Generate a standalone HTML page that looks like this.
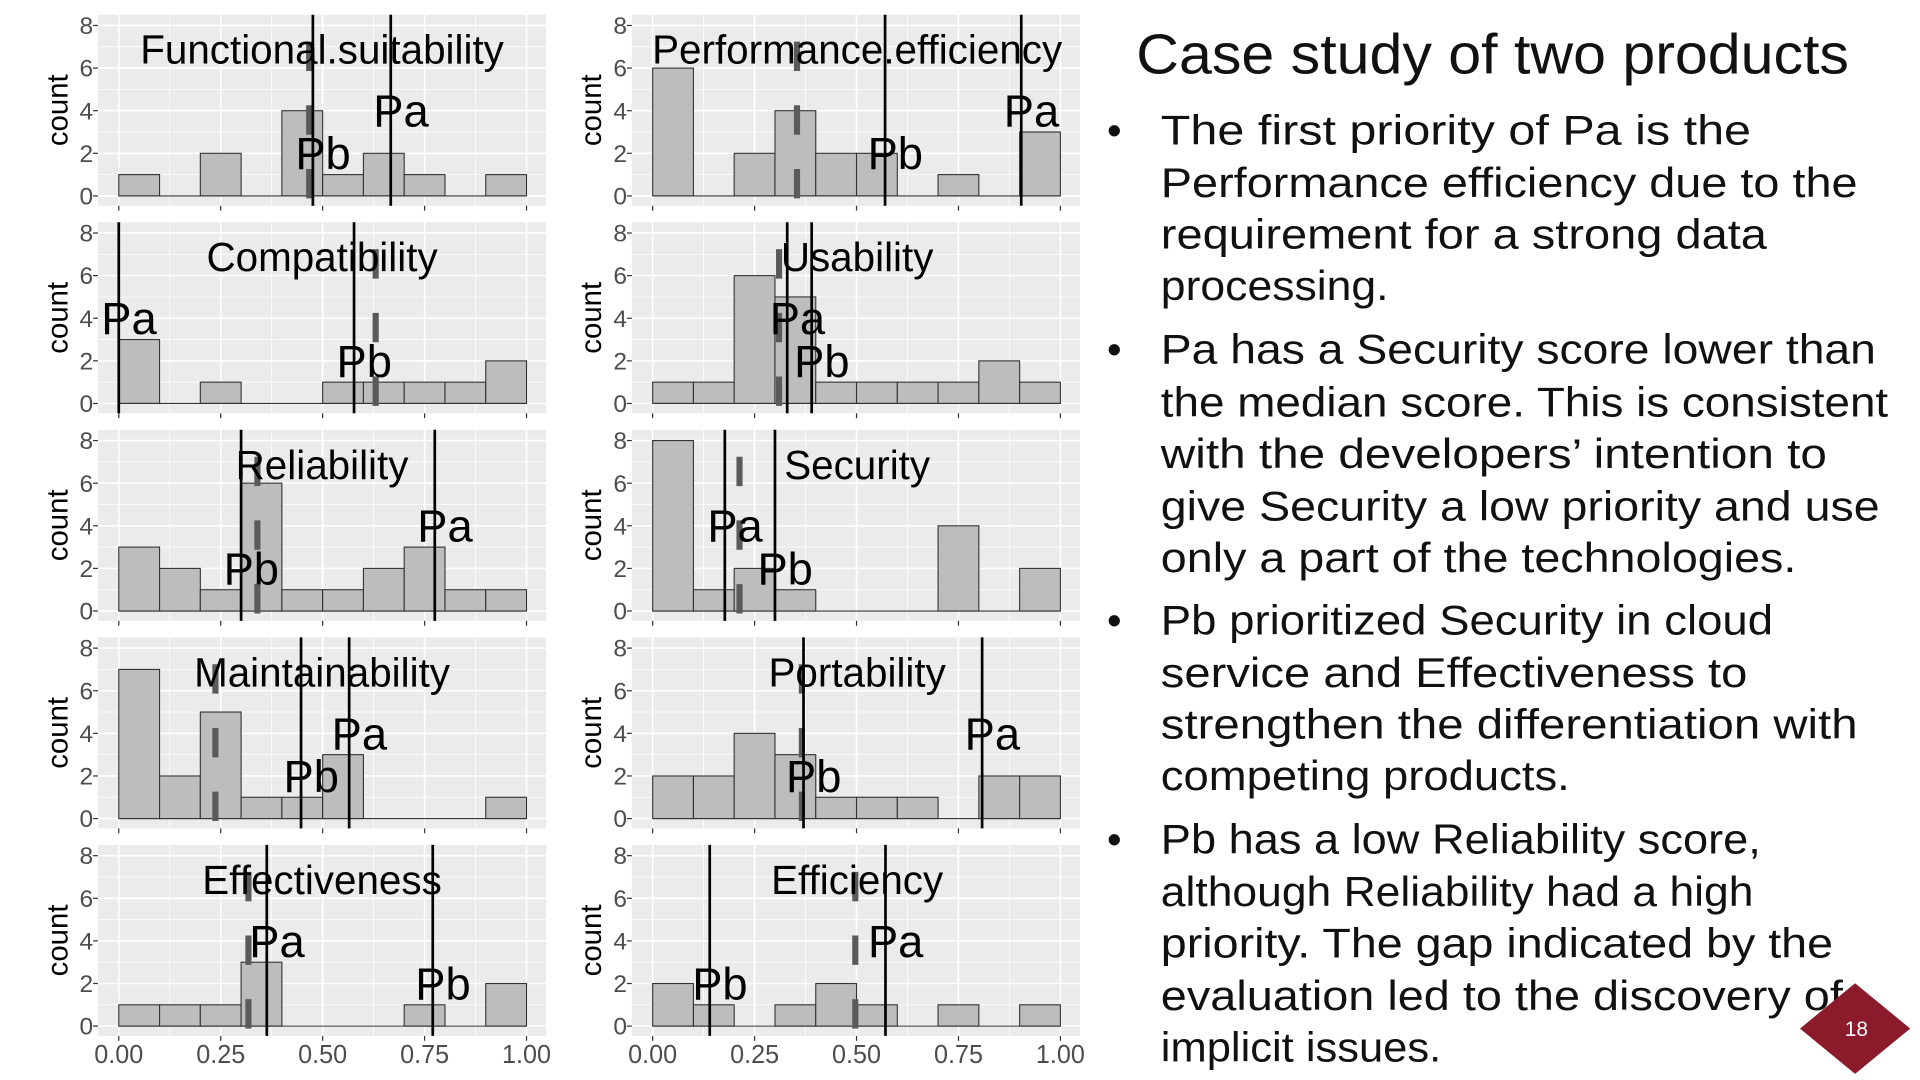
<!DOCTYPE html>
<html><head><meta charset="utf-8"><style>
html,body{margin:0;padding:0;background:#fff;}
svg{display:block;}
</style></head><body>
<svg id="chart" width="1920" height="1080" viewBox="0 0 1568 882" xmlns="http://www.w3.org/2000/svg" font-family="'Liberation Sans', sans-serif">
<g id="panels"></g>
<g font-family="'Liberation Sans','Noto Sans CJK JP',sans-serif" fill="#111">
<text x="928" y="60" font-size="46" textLength="582" lengthAdjust="spacingAndGlyphs">Case study of two products</text>
<g font-size="34">
<text x="904" y="118">•</text>
<text x="948" y="118" textLength="482" lengthAdjust="spacingAndGlyphs">The first priority of Pa is the</text>
<text x="948" y="161" textLength="569" lengthAdjust="spacingAndGlyphs">Performance efficiency due to the</text>
<text x="948" y="203" textLength="495" lengthAdjust="spacingAndGlyphs">requirement for a strong data</text>
<text x="948" y="245" textLength="186" lengthAdjust="spacingAndGlyphs">processing.</text>
<text x="904" y="297">•</text>
<text x="948" y="297" textLength="584" lengthAdjust="spacingAndGlyphs">Pa has a Security score lower than</text>
<text x="948" y="340" textLength="594" lengthAdjust="spacingAndGlyphs">the median score. This is consistent</text>
<text x="948" y="382" textLength="544" lengthAdjust="spacingAndGlyphs">with the developers’ intention to</text>
<text x="948" y="425" textLength="587" lengthAdjust="spacingAndGlyphs">give Security a low priority and use</text>
<text x="948" y="467" textLength="519" lengthAdjust="spacingAndGlyphs">only a part of the technologies.</text>
<text x="904" y="518">•</text>
<text x="948" y="518" textLength="500" lengthAdjust="spacingAndGlyphs">Pb prioritized Security in cloud</text>
<text x="948" y="561" textLength="479" lengthAdjust="spacingAndGlyphs">service and Effectiveness to</text>
<text x="948" y="603" textLength="569" lengthAdjust="spacingAndGlyphs">strengthen the differentiation with</text>
<text x="948" y="645" textLength="334" lengthAdjust="spacingAndGlyphs">competing products.</text>
<text x="904" y="697">•</text>
<text x="948" y="697" textLength="490" lengthAdjust="spacingAndGlyphs">Pb has a low Reliability score,</text>
<text x="948" y="740" textLength="484" lengthAdjust="spacingAndGlyphs">although Reliability had a high</text>
<text x="948" y="782" textLength="549" lengthAdjust="spacingAndGlyphs">priority. The gap indicated by the</text>
<text x="948" y="825" textLength="557" lengthAdjust="spacingAndGlyphs">evaluation led to the discovery of</text>
<text x="948" y="867" textLength="229" lengthAdjust="spacingAndGlyphs">implicit issues.</text>
</g>
</g>
<g>
<polygon points="1515,803 1560,840 1515,877 1470,840" fill="#8B1A2B"/>
<text x="1516" y="846" font-size="17" fill="#fff" text-anchor="middle">18</text>
</g>
</svg>
<script>
const panelTitles = ["Functional.suitability","Performance.efficiency","Compatibility","Usability","Reliability","Security","Maintainability","Portability","Effectiveness","Efficiency"];
const countsFunctional = [1,0,2,0,4,1,2,1,0,1];
const countsPerformance = [6,0,2,4,2,2,0,1,0,3];
const countsCompatibility = [3,0,1,0,0,1,1,1,1,2];
const countsUsability = [1,1,6,5,1,1,1,1,2,1];
const countsReliability = [3,2,1,6,1,1,2,3,1,1];
const countsSecurity = [8,1,2,1,0,0,0,4,0,2];
const countsMaintainability = [7,2,5,1,1,3,0,0,0,1];
const countsPortability = [2,2,4,3,1,1,1,0,2,2];
const countsEffectiveness = [1,1,1,3,0,0,0,1,0,2];
const countsEfficiency = [2,1,0,1,2,1,0,1,0,1];
const paScores = [0.667,0.904,0.0,0.33,0.775,0.177,0.565,0.808,0.363,0.571];
const pbScores = [0.476,0.57,0.577,0.39,0.30,0.30,0.447,0.37,0.77,0.14];
const medianScores = [0.467,0.354,0.63,0.31,0.34,0.213,0.237,0.366,0.318,0.497];
const yTicks = [0,2,4,6,8];
const xTickLabels = ["0.00","0.25","0.50","0.75","1.00"];
const xTickValues = [0,0.25,0.5,0.75,1];
const binWidth = 0.1;

const allCounts = [countsFunctional,countsPerformance,countsCompatibility,countsUsability,countsReliability,countsSecurity,countsMaintainability,countsPortability,countsEffectiveness,countsEfficiency];
const NS = "http://www.w3.org/2000/svg";
const root = document.getElementById('panels');
function mk(tag, attrs, parent){ const e=document.createElementNS(NS,tag); for(const k in attrs) e.setAttribute(k,attrs[k]); parent.appendChild(e); return e; }

allCounts.forEach((counts, i) => {
  const col = i % 2, row = Math.floor(i/2);
  const x0 = col ? 533 : 97, W = 333;
  const y0 = 160 + 169.5*row, U = 17.4;
  const sx = v => x0 + v*W;
  const sy = c => y0 - c*U;
  const g = mk('g', {}, root);
  
  
  const left = x0 - 17, top = y0 - 148;
  mk('rect', {x:left, y:top, width:366, height:156, fill:'#EBEBEB'}, g);
  for (let c=1;c<8;c+=2) mk('line',{x1:left,x2:left+366,y1:sy(c),y2:sy(c),stroke:'#fff','stroke-width':0.6},g);
  for (let v=0.125;v<1;v+=0.25) mk('line',{x1:sx(v),x2:sx(v),y1:top,y2:top+156,stroke:'#fff','stroke-width':0.6},g);
  yTicks.forEach(c => mk('line',{x1:left,x2:left+366,y1:sy(c),y2:sy(c),stroke:'#fff','stroke-width':1.3},g));
  xTickValues.forEach(v => mk('line',{x1:sx(v),x2:sx(v),y1:top,y2:top+156,stroke:'#fff','stroke-width':1.3},g));
  counts.forEach((c, b) => {
    const r = mk('rect',{x:sx(b*binWidth), y:sy(c), width:binWidth*W, height:c*U, fill:'#BDBDBD', stroke:'#333','stroke-width':0.9}, g);
    
    
  });
  mk('line',{x1:sx(0),x2:sx(1),y1:y0,y2:y0,stroke:'#333','stroke-width':0.9},g);
  const md = mk('line',{x1:sx(medianScores[i]),x2:sx(medianScores[i]),y1:top,y2:top+156,stroke:'#5a5a5a','stroke-width':5,'stroke-dasharray':'24 28','stroke-dashoffset':30},g);
  
  
  const pa = mk('line',{x1:sx(paScores[i]),x2:sx(paScores[i]),y1:top,y2:top+156,stroke:'#000','stroke-width':2.2},g);
  
  
  const pb = mk('line',{x1:sx(pbScores[i]),x2:sx(pbScores[i]),y1:top,y2:top+156,stroke:'#000','stroke-width':2.2},g);
  
  
  const ta = mk('text',{x:sx(paScores[i]+0.025), y:sy(4)+13, 'font-size':37, 'text-anchor':'middle', fill:'#000'}, g);
  ta.textContent = 'Pa';
  
  
  const tb = mk('text',{x:sx(pbScores[i]+0.025), y:sy(2)+13, 'font-size':37, 'text-anchor':'middle', fill:'#000'}, g);
  tb.textContent = 'Pb';
  
  
  const tt = mk('text',{x:col?700:263, y:y0-108, 'font-size':33, 'text-anchor':'middle', fill:'#000'}, g);
  tt.textContent = panelTitles[i];
  
  
  yTicks.forEach(c => {
    mk('line',{x1:left-4,x2:left,y1:sy(c),y2:sy(c),stroke:'#333','stroke-width':1},g);
    const t = mk('text',{x:left-4, y:sy(c)+7, 'font-size':20, 'text-anchor':'end', fill:'#4D4D4D'}, g);
    t.textContent = c;
    
    
  });
  const yl = mk('text',{transform:`translate(${left-25},${y0-70}) rotate(-90)`, 'font-size':24, 'text-anchor':'middle', fill:'#000'}, g);
  yl.textContent = 'count';
  
  
  xTickValues.forEach((v, k) => {
    mk('line',{x1:sx(v),x2:sx(v),y1:top+156,y2:top+160,stroke:'#333','stroke-width':1},g);
    if (row === 4) {
      const t = mk('text',{x:sx(v), y:y0+30, 'font-size':21, 'text-anchor':'middle', fill:'#4D4D4D', textLength:40, lengthAdjust:'spacingAndGlyphs'}, g);
      t.textContent = xTickLabels[k];
      
      
    }
  });
});
</script>
</body></html>
